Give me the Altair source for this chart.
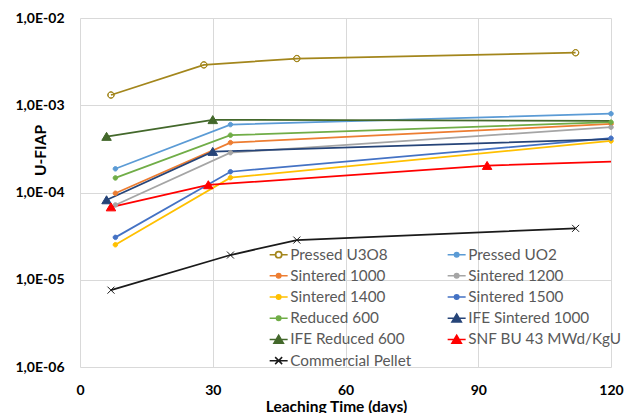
import altair as alt
import pandas as pd

series_names = ["Pressed U3O8", "Pressed UO2", "Sintered 1000", "Sintered 1200",
                "Sintered 1400", "Sintered 1500", "Reduced 600", "IFE Sintered 1000",
                "IFE Reduced 600", "SNF BU 43 MWd/KgU", "Commercial Pellet"]
colors = ["#A3861C", "#5B9BD5", "#ED7D31", "#A5A5A5", "#FFC000", "#4472C4",
          "#70AD47", "#264478", "#43682B", "#FF0000", "#1A1A1A"]

u3o8_days = [7, 28, 49, 112]
u3o8_vals = [1.31e-3, 2.9e-3, 3.43e-3, 4.0e-3]
sint_days = [8, 34, 120]
uo2_vals = [1.87e-4, 6.0e-4, 8.0e-4]
s1000_vals = [9.8e-5, 3.73e-4, 6.1e-4]
s1200_vals = [7.2e-5, 2.86e-4, 5.6e-4]
s1400_vals = [2.52e-5, 1.48e-4, 3.9e-4]
s1500_vals = [3.06e-5, 1.73e-4, 4.19e-4]
red600_vals = [1.47e-4, 4.54e-4, 6.4e-4]
ife_days = [6, 30, 120]
ife_s1000_vals = [8.2e-5, 2.94e-4, 4.08e-4]
ife_r600_vals = [4.37e-4, 6.8e-4, 6.6e-4]
snf_days = [7, 29, 92, 120]
snf_vals = [6.8e-5, 1.22e-4, 2.03e-4, 2.26e-4]
pellet_days = [7, 34, 49, 112]
pellet_vals = [7.6e-6, 1.92e-5, 2.85e-5, 3.88e-5]

x_ticks = [0, 30, 60, 90, 120]
y_ticks = [1e-6, 1e-5, 1e-4, 1e-3, 1e-2]

series_data = [
    (series_names[0], u3o8_days, u3o8_vals),
    (series_names[1], sint_days, uo2_vals),
    (series_names[2], sint_days, s1000_vals),
    (series_names[3], sint_days, s1200_vals),
    (series_names[4], sint_days, s1400_vals),
    (series_names[5], sint_days, s1500_vals),
    (series_names[6], sint_days, red600_vals),
    (series_names[7], ife_days, ife_s1000_vals),
    (series_names[8], ife_days, ife_r600_vals),
    (series_names[9], snf_days, snf_vals),
    (series_names[10], pellet_days, pellet_vals),
]
rows = []
for name, days, vals in series_data:
    for d, v in zip(days, vals):
        rows.append({"series": name, "day": d, "value": v})
df = pd.DataFrame(rows)

# marker shapes (custom SVG paths, unit coordinates)
dot = "M-0.45,0A0.45,0.45 0 1,0 0.45,0A0.45,0.45 0 1,0 -0.45,0Z"
ring = ("M-0.64,0A0.64,0.64 0 1,0 0.64,0A0.64,0.64 0 1,0 -0.64,0Z"
        "M-0.6,0A0.6,0.6 0 1,1 0.6,0A0.6,0.6 0 1,1 -0.6,0Z")
tri = "M0,-0.85L0.95,0.75L-0.95,0.75Z"
cross = "M-0.7,-0.7L0.7,0.7M-0.7,0.7L0.7,-0.7"
marker_paths = [ring, dot, dot, dot, dot, dot, dot, tri, tri, tri, cross]
seg = "M-1.8,0H1.8"
legend_paths = ["M-1.8,0H-0.64M0.64,0H1.8" + ring] + [seg + p for p in marker_paths[1:]]

FONT = "Lato"

x = alt.X("day:Q", scale=alt.Scale(domain=[0, 120], nice=False, zero=False),
          axis=alt.Axis(values=x_ticks, title="Leaching Time (days)", labelPadding=16.5,
                        labelFlush=False,
                        titleX=256, titleY=44, titleBaseline="alphabetic",
                        titleAlign="center", titleAnchor="start"))
y = alt.Y("value:Q", scale=alt.Scale(type="log", domain=[1e-6, 1e-2], nice=False),
          axis=alt.Axis(values=y_ticks, title="U-FIAP", labelPadding=16, labelFlush=False,
                        labelExpr="'1,0E-' + pad(toString(round(-log(datum.value)/LN10)), 2, '0', 'left')",
                        titleX=-40, titleY=132, titleAngle=270, titleAlign="center",
                        titleBaseline="middle", titleAnchor="start"))

color_scale = alt.Scale(domain=series_names, range=colors)

lines = alt.Chart(df).mark_line(strokeWidth=1.75).encode(
    x=x, y=y,
    color=alt.Color("series:N", scale=color_scale, legend=None),
)

no_end_marker = ("!(datum.day == 120 && (indexof(datum.series, 'IFE') == 0 || "
                 "indexof(datum.series, 'SNF') == 0))")

markers = alt.Chart(df).transform_filter(no_end_marker).mark_point(
    filled=True, size=100, strokeWidth=1, opacity=1
).encode(
    x=x, y=y,
    fill=alt.Fill("series:N", scale=color_scale, legend=None),
    stroke=alt.Stroke("series:N", scale=color_scale, legend=None),
    shape=alt.Shape("series:N", scale=alt.Scale(domain=series_names, range=marker_paths), legend=None),
)

leg = alt.Legend(title=None, orient="none", legendX=186, legendY=229, columns=2,
                 direction="horizontal",
                 columnPadding=32, rowPadding=5.2, symbolSize=100, symbolStrokeWidth=1.5,
                 symbolOffset=5, labelOffset=4, labelFont=FONT, labelFontSize=15.3,
                 labelColor="#595959", labelLimit=0)

legend_layer = alt.Chart(df).transform_filter("false").mark_point(
    filled=True, size=100, strokeWidth=1.5, opacity=1
).encode(
    x=x, y=y,
    fill=alt.Fill("series:N", scale=color_scale, legend=leg),
    stroke=alt.Stroke("series:N", scale=color_scale, legend=leg),
    shape=alt.Shape("series:N", scale=alt.Scale(domain=series_names, range=legend_paths), legend=leg),
)

chart = alt.layer(lines, markers, legend_layer).resolve_scale(
    fill="independent", stroke="independent", shape="independent"
).properties(
    width=531, height=349,
    padding={"left": 80, "top": 18, "right": 14, "bottom": 46},
    autosize=alt.AutoSizeParams(type="none"),
).configure_view(stroke=None).configure_axis(
    gridColor="#D9D9D9", gridWidth=1, domain=False, ticks=False, tickSize=0,
    labelFont=FONT, labelFontWeight="bold", labelFontSize=14, labelColor="#000000",
    titleFont=FONT, titleFontWeight="bold", titleFontSize=15.5, titleColor="#000000",
)

chart.save("out.html", embed_options={"renderer": "svg", "actions": False})
